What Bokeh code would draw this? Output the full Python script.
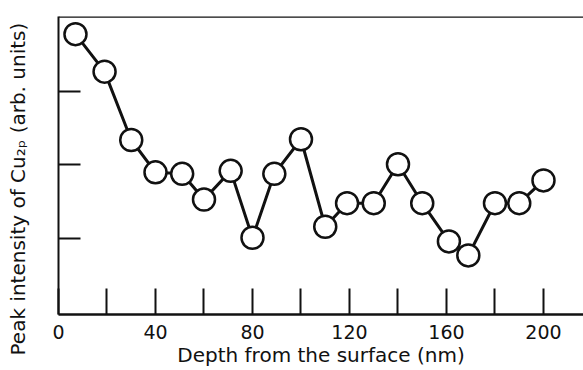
import math
from bokeh.plotting import figure
from bokeh.models import FixedTicker, Span, Range1d, Title
from bokeh.embed import file_html
from bokeh.resources import INLINE

# Data
depth_nm = [7, 19, 30, 40, 51, 60, 71, 80, 89, 100, 110, 119, 130, 140, 150, 161, 169, 180, 190, 200]
intensity = [3.78, 3.27, 2.34, 1.90, 1.88, 1.53, 1.92, 1.01, 1.88, 2.35,
             1.16, 1.48, 1.48, 2.01, 1.48, 0.96, 0.77, 1.48, 1.48, 1.79]
x_major_ticks = [0, 40, 80, 120, 160, 200]
x_minor_ticks = [20, 60, 100, 140, 180]
y_ticks = [1, 2, 3]
x_label = "Depth from the surface (nm)"
y_label = "Peak intensity of Cu\u2082\u209a (arb. units)"

FONT = "DejaVu Sans"
INK = "#111111"

p = figure(width=583, height=370, output_backend="svg", toolbar_location=None,
           x_range=Range1d(0, 216.5), y_range=Range1d(-0.034, 4.02),
           min_border_left=58, min_border_right=0, min_border_top=16, min_border_bottom=56)
p.outline_line_color = None
p.grid.grid_line_color = None
p.background_fill_color = "white"
p.border_fill_color = "white"

# x axis
xa = p.xaxis[0]
xa.ticker = FixedTicker(ticks=x_major_ticks, minor_ticks=x_minor_ticks)
xa.axis_line_color = INK
xa.axis_line_width = 2.5
xa.major_tick_in = 26
xa.major_tick_out = 0
xa.minor_tick_in = 26
xa.minor_tick_out = 0
xa.major_tick_line_width = 2
xa.minor_tick_line_width = 2
xa.major_tick_line_color = INK
xa.minor_tick_line_color = INK
xa.major_label_text_font = FONT
xa.major_label_text_font_size = "19px"
xa.major_label_text_color = INK
xa.major_label_standoff = 10
xa.axis_label = x_label
xa.axis_label_text_font = FONT
xa.axis_label_text_font_size = "20px"
xa.axis_label_text_font_style = "normal"
xa.axis_label_text_color = INK
xa.axis_label_standoff = 1

# y axis: no tick labels; a blank 1px label only reserves room before the side title
ya = p.yaxis[0]
ya.ticker = FixedTicker(ticks=y_ticks, minor_ticks=[])
ya.axis_line_color = INK
ya.axis_line_width = 2
ya.major_tick_in = 22
ya.major_tick_out = 0
ya.major_tick_line_width = 2
ya.major_tick_line_color = INK
ya.minor_tick_line_color = None
ya.major_label_text_font_size = "0px"
ya.major_label_text_color = None
ya.major_label_standoff = 0
ya.axis_label = "\u00a0"
ya.axis_label_text_font_size = "1px"
ya.axis_label_text_color = None
ya.axis_label_standoff = 24

# y label as a side title, starting a little below the frame bottom as in the original
p.add_layout(Title(text=y_label, align="left", offset=-41, standoff=1,
                   text_font=FONT, text_font_size="20px", text_font_style="normal",
                   text_color=INK), "left")

# top border line
p.add_layout(Span(location=4.02, dimension="width", line_color=INK, line_width=2.5))

p.line(depth_nm, intensity, line_color=INK, line_width=3)
p.scatter(depth_nm, intensity, size=22, fill_color="white", line_color=INK, line_width=2.5)

open("out.html", "w").write(file_html(p, INLINE))
